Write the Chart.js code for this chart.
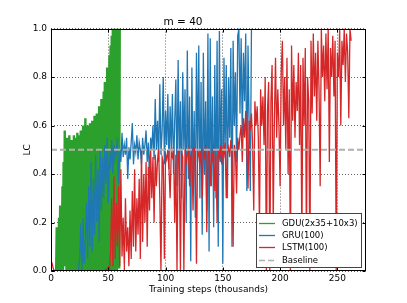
<!DOCTYPE html>
<html>
<head>
<meta charset="utf-8">
<script src="https://cdn.jsdelivr.net/npm/chart.js@4.4.1/dist/chart.umd.min.js"></script>
<style>
    body { margin: 0; background: #fff; }
    #wrap { width: 407px; height: 303px; }
</style>
</head>
<body>
<div id="wrap"><canvas id="chart1" width="407" height="303"></canvas></div>
<script>
// GDU(2x35+10x3): one value every 0.5k steps, starting at 4.5k
const gduStart = 4.5;
const gduStep = 0.5;
const gduLC = [
    0, 0.18, 0.02, 0.1, 0, 0.22, 0.04, 0.27, 0, 0.2,
    0.03, 0.35, 0, 0.45, 0.05, 0.58, 0.02, 0.5, 0, 0.55,
    0.04, 0.52, 0, 0.56, 0.03, 0.5, 0, 0.54, 0.06, 0.53,
    0, 0.56, 0.02, 0.52, 0, 0.55, 0.04, 0.57, 0, 0.54,
    0.03, 0.56, 0, 0.58, 0.05, 0.55, 0, 0.6, 0.02, 0.57,
    0, 0.63, 0.04, 0.58, 0, 0.6, 0.02, 0.57, 0, 0.61,
    0.05, 0.59, 0, 0.62, 0.03, 0.6, 0, 0.64, 0.04, 0.62,
    0, 0.65, 0.02, 0.63, 0, 0.68, 0.05, 0.66, 0, 0.71,
    0.03, 0.69, 0, 0.74, 0.02, 0.78, 0, 0.76, 0.04, 0.84,
    0, 0.82, 0.03, 0.89, 0, 0.93, 0.02, 0.97, 0, 1.0,
    0.04, 0.98, 0, 1.0, 0.02, 1.0, 0, 1.0, 0.03, 1.0,
    0.01, 1.0,
];

// GRU(100): one value every 1k steps, starting at 24k
const gruStart = 24;
const gruStep = 1;
const gruLC = [
    0, 0.05, 0.18, 0, 0.22, 0.03, 0.12, 0.28, 0.05, 0.35,
    0.1, 0.45, 0.08, 0.38, 0.15, 0.48, 0.2, 0.42, 0.12, 0.5,
    0.25, 0.47, 0.3, 0.52, 0.36, 0.55, 0.28, 0.5, 0.42, 0.54,
    0.4, 0.52, 0.46, 0.49, 0.55, 0.36, 0.5, 0.45, 0.57, 0.47,
    0.52, 0.48, 0.55, 0.38, 0.51, 0.46, 0.53, 0.61, 0.44, 0.52,
    0.49, 0.56, 0.46, 0.53, 0.5, 0.44, 0.55, 0.48, 0.52, 0.58,
    0.45, 0.53, 0.38, 0.55, 0.5, 0.6, 0.46, 0.71, 0.5, 0.62,
    0.45, 0.77, 0.48, 0.58, 0.8, 0.44, 0.66, 0.52, 0.73, 0.42,
    0.68, 0.5, 0.73, 0.4, 0.62, 0.79, 0.35, 0.87, 0.45, 0.7,
    0.3, 0.82, 0.5, 0.75, 0.2, 0.91, 0.38, 0.72, 0.04, 0.84,
    0.35, 0.66, 0.22, 0.9, 0.45, 0.93, 0.3, 0.78, 0.15, 0.9,
    0.4, 0.7, 0.25, 0.98, 0.08, 0.96, 0.35, 0.72, 0.18, 0.85,
    0.3, 0.95, 0.1, 0.99, 0.45, 0.75, 0.03, 0.88, 0.5, 0.85,
    0.3, 0.8, 0.55, 0.92, 0.1, 0.95, 0.6, 0.82, 0.45, 0.97,
    1.0, 0.65, 0.96, 0.55, 0.9, 0.7, 0.98, 0.33, 0.93, 0.6,
    0.33, 1.0,
];

// LSTM(100): one value every 1k steps, starting at 0
const lstmStart = 0;
const lstmStep = 1;
const lstmLC = [
    0.02, 0.03, 0.01, 0, 0, 0, 0, 0, 0, 0,
    0, 0, 0, 0, 0, 0, 0, 0, 0, 0,
    0, 0, 0, 0, 0, 0, 0, 0, 0, 0,
    0, 0, 0, 0, 0, 0, 0, 0, 0, 0,
    0, 0, 0, 0, 0, 0, 0, 0, 0.01, 0,
    0.02, 0, 0.08, 0.3, 0.02, 0.39, 0.05, 0.28, 0.1, 0.35,
    0.02, 0.42, 0.06, 0.22, 0, 0.3, 0.08, 0.18, 0.02, 0.25,
    0.05, 0.33, 0.1, 0.42, 0.08, 0.3, 0.15, 0.38, 0.05, 0.5,
    0.12, 0.4, 0.2, 0.45, 0.1, 0.43, 0.25, 0.5, 0.3, 0.47,
    0.2, 0.48, 0.35, 0.46, 0.5, 0.3, 0, 0.47, 0.45, 0.05,
    0.48, 0.46, 0.5, 0.42, 0.3, 0.49, 0.47, 0.51, 0.2, 0.48,
    0, 0.5, 0.46, 0, 0.49, 0.47, 0, 0.5, 0.45, 0.48,
    0.5, 0.35, 0.47, 0.49, 0.25, 0.51, 0.46, 0.03, 0.5, 0.48,
    0.45, 0.5, 0.3, 0.49, 0.47, 0.52, 0.16, 0.48, 0.5, 0.35,
    0.49, 0.46, 0.51, 0.33, 0.48, 0.2, 0.5, 0.47, 0.52, 0.44,
    0.5, 0.48, 0.53, 0.3, 0.49, 0.51, 0.47, 0.54, 0.5, 0.1,
    0.52, 0.49, 0.32, 0.55, 0.5, 0.56, 0.6, 0.45, 0.63, 0.55,
    0.66, 0.5, 0.34, 0.62, 0.58, 0.65, 0.52, 0.25, 0.7, 0.6,
    0.68, 0.55, 0.18, 0.75, 0.6, 0.72, 0.52, 0.8, 0, 0.66,
    0.78, 0, 0.7, 0.85, 0.2, 0.62, 0.88, 0.55, 0.75, 0.6,
    0.35, 0.82, 0.95, 0.6, 0.8, 0.5, 0.88, 0.4, 0.75, 0,
    0.93, 0.62, 0.85, 0.55, 0.78, 0.66, 0.9, 0.52, 0.85, 0.1,
    0.88, 0.6, 0.92, 0.1, 0.8, 0.7, 0, 0.95, 0.65, 0.98,
    0.72, 0.9, 0.62, 0.95, 0.75, 0.35, 1.0, 0.8, 0.93, 0.7,
    0.98, 0.75, 1.0, 0.45, 0.92, 0.8, 0.97, 0.72, 0.95, 0,
    0.9, 0.8, 1.0, 0.6, 0.95, 0.85, 1.0, 0.78, 0.98, 0.9,
    0.63, 1.0, 0.95,
];

const baselineSteps = [0, 275];
const baselineLC = [0.5, 0.5];

const toPoints = (values, start, step) => values.map((y, i) => ({ x: start + i * step, y }));

const FONT = "'DejaVu Sans', sans-serif";

// matplotlib-ish frame: all four spines plus inward ticks
const framePlugin = {
    id: "frame",
    afterDraw(chart) {
        const { ctx, chartArea: a, scales } = chart;
        const L = Math.round(a.left) + 0.5;
        const R = Math.round(a.right) - 0.5;
        const T = Math.round(a.top) + 0.5;
        const B = Math.round(a.bottom) - 0.5;
        ctx.save();
        ctx.strokeStyle = "#000";
        ctx.lineWidth = 1;
        ctx.beginPath();
        scales.x.ticks.forEach((t) => {
            const px = Math.round(scales.x.getPixelForValue(t.value)) + 0.5;
            ctx.moveTo(px, B);
            ctx.lineTo(px, B - 3);
            ctx.moveTo(px, T);
            ctx.lineTo(px, T + 3);
        });
        scales.y.ticks.forEach((t) => {
            const py = Math.round(scales.y.getPixelForValue(t.value)) + 0.5;
            ctx.moveTo(L, py);
            ctx.lineTo(L + 3, py);
            ctx.moveTo(R, py);
            ctx.lineTo(R - 3, py);
        });
        ctx.stroke();
        ctx.strokeRect(L, T, R - L, B - T);
        ctx.restore();
    },
};

// legend box in the lower right, like matplotlib loc=4
const legendPlugin = {
    id: "boxLegend",
    afterDraw(chart) {
        const { ctx, chartArea: a } = chart;
        const w = 105;
        const h = 54;
        const x0 = a.right - 5 - w;
        const y0 = a.bottom - 4 - h;
        ctx.save();
        ctx.fillStyle = "#fff";
        ctx.fillRect(x0, y0, w, h);
        ctx.strokeStyle = "#444";
        ctx.lineWidth = 1;
        ctx.strokeRect(Math.round(x0) + 0.5, Math.round(y0) + 0.5, w, h);
        ctx.font = "8.5px " + FONT;
        ctx.textBaseline = "middle";
        ctx.textAlign = "left";
        chart.data.datasets.forEach((ds, i) => {
            const y = Math.round(y0 + 10 + i * 12.2) + 0.5;
            ctx.strokeStyle = ds.borderColor;
            ctx.lineWidth = ds.legendWidth;
            ctx.setLineDash(ds.borderDash || []);
            ctx.beginPath();
            ctx.moveTo(x0 + 3, y);
            ctx.lineTo(x0 + 19, y);
            ctx.stroke();
            ctx.setLineDash([]);
            ctx.fillStyle = "#000";
            ctx.fillText(ds.label, x0 + 26, y);
        });
        ctx.restore();
    },
};

// a tiny tension keeps Chart.js off its per-pixel "fast path",
// so every zigzag is stroked point to point like the original
const seriesStyle = (color, width, order) => ({
    borderColor: color,
    borderWidth: width,
    legendWidth: 1.3,
    pointRadius: 0,
    tension: 0.0001,
    order,
});

const axisStyle = {
    z: 1,
    border: { display: false, dash: [1, 2] },
    grid: { color: "rgba(0,0,0,0.75)", lineWidth: 0.8, drawTicks: false },
};

new Chart(document.getElementById("chart1"), {
    type: "line",
    data: {
        datasets: [
            { label: "GDU(2x35+10x3)", data: toPoints(gduLC, gduStart, gduStep), ...seriesStyle("#2ca02c", 2.4, 3) },
            { label: "GRU(100)", data: toPoints(gruLC, gruStart, gruStep), ...seriesStyle("#1f77b4", 1.3, 2) },
            { label: "LSTM(100)", data: toPoints(lstmLC, lstmStart, lstmStep), ...seriesStyle("#d62728", 1.3, 1) },
            {
                label: "Baseline",
                data: baselineSteps.map((x, i) => ({ x, y: baselineLC[i] })),
                borderColor: "#b0b0b0",
                borderWidth: 2,
                legendWidth: 1.5,
                borderDash: [6, 3],
                pointRadius: 0,
                order: 0,
            },
        ],
    },
    options: {
        responsive: false,
        animation: false,
        devicePixelRatio: 1,
        layout: { padding: { left: 0, right: 41, top: 0, bottom: 0 } },
        plugins: {
            legend: { display: false },
            tooltip: { enabled: false },
            title: {
                display: true,
                text: "m = 40",
                color: "#000",
                font: { family: FONT, size: 10.5, weight: "normal" },
                padding: { top: 16, bottom: 0 },
            },
        },
        scales: {
            x: {
                type: "linear",
                min: 0,
                max: 275,
                ...axisStyle,
                afterFit: (s) => { s.height = 32; },
                ticks: {
                    stepSize: 50,
                    includeBounds: false,
                    maxRotation: 0,
                    padding: 2,
                    color: "#000",
                    font: { family: FONT, size: 9 },
                },
                title: {
                    display: true,
                    text: "Training steps (thousands)",
                    color: "#000",
                    font: { family: FONT, size: 9 },
                    padding: { top: 0, bottom: 8 },
                },
            },
            y: {
                min: 0,
                max: 1,
                ...axisStyle,
                afterFit: (s) => { s.width = 51; },
                ticks: {
                    stepSize: 0.2,
                    padding: 4,
                    color: "#000",
                    font: { family: FONT, size: 9 },
                    callback: (v) => v.toFixed(1),
                },
                title: {
                    display: true,
                    text: "LC",
                    color: "#000",
                    font: { family: FONT, size: 9 },
                    padding: { top: 22, bottom: 0 },
                },
            },
        },
    },
    plugins: [framePlugin, legendPlugin],
});
</script>
</body>
</html>
